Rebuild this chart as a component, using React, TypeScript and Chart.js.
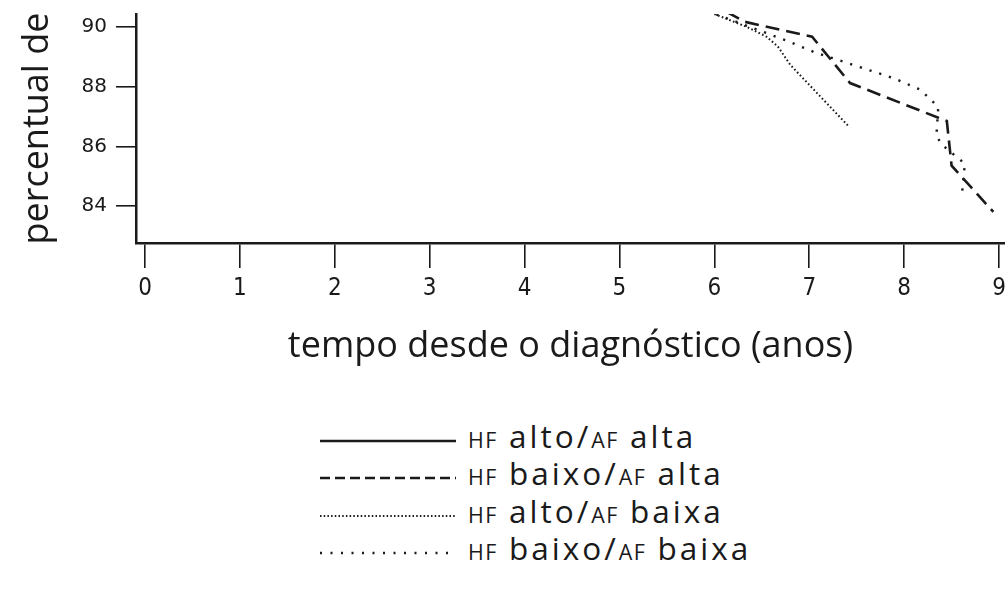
import React, { useEffect, useRef } from "react";
import { Chart, registerables } from "chart.js";

Chart.register(...registerables);

// ---- data ----
const xTickValues = [0, 1, 2, 3, 4, 5, 6, 7, 8, 9];
const yTickValues = [84, 86, 88, 90];

const seriesLabels = [
  "HF alto/AF alta",
  "HF baixo/AF alta",
  "HF alto/AF baixa",
  "HF baixo/AF baixa",
];

// HF alto/AF alta: not visible inside the shown window
const altoAltaX: number[] = [];
const altoAltaY: number[] = [];

const baixoAltaX = [6.13, 6.32, 7.03, 7.43, 8.45, 8.5, 8.94];
const baixoAltaY = [90.5, 90.17, 89.67, 88.12, 86.85, 85.36, 83.81];

const altoBaixaX = [6.0, 6.34, 6.55, 6.67, 6.8, 7.41];
const altoBaixaY = [90.43, 90.0, 89.67, 89.34, 88.73, 86.69];

const baixoBaixaX = [6.02, 6.76, 7.08, 7.27, 7.9, 8.17, 8.36, 8.34, 8.4, 8.64, 8.61];
const baixoBaixaY = [90.42, 89.54, 89.12, 88.93, 88.27, 87.9, 87.32, 86.35, 86.05, 85.42, 84.42];

// ---- styles ----
const INK = "#1a1a1a";
const FONT = "'Open Sans', Lato, sans-serif";

const toPts = (xs: number[], ys: number[]) => xs.map((x, i) => ({ x, y: ys[i] }));

const legendDash = ["", "10 5", "1.5 2.2", "2 8.5"];
const legendWidth = [2.6, 2.6, 2, 2.4];

function SmallCapsLabel({ text }: { text: string }) {
  const parts = text.split(/([A-Z]{2,})/);
  return (
    <span>
      {parts.map((p, i) =>
        /^[A-Z]{2,}$/.test(p) ? (
          <span key={i} style={{ fontSize: "0.68em", letterSpacing: "1.5px" }}>
            {p}
          </span>
        ) : (
          <span key={i}>{p}</span>
        )
      )}
    </span>
  );
}

export default function App() {
  const ref = useRef<HTMLCanvasElement | null>(null);

  useEffect(() => {
    if (!ref.current) return;
    const H = 380;
    const chart = new Chart(ref.current, {
      type: "line",
      data: {
        datasets: [
          {
            label: seriesLabels[0],
            data: toPts(altoAltaX, altoAltaY),
            borderColor: INK,
            borderWidth: 2.6,
            pointRadius: 0,
            fill: false,
          },
          {
            label: seriesLabels[1],
            data: toPts(baixoAltaX, baixoAltaY),
            borderColor: INK,
            borderWidth: 2.6,
            borderDash: [14, 7],
            pointRadius: 0,
            fill: false,
          },
          {
            label: seriesLabels[2],
            data: toPts(altoBaixaX, altoBaixaY),
            borderColor: INK,
            borderWidth: 2,
            borderDash: [1.6, 2.4],
            pointRadius: 0,
            fill: false,
          },
          {
            label: seriesLabels[3],
            data: toPts(baixoBaixaX, baixoBaixaY),
            borderColor: INK,
            borderWidth: 2.4,
            borderDash: [2.2, 8],
            pointRadius: 0,
            fill: false,
          },
        ],
      },
      options: {
        animation: false,
        responsive: false,
        maintainAspectRatio: false,
        layout: { padding: { top: 14, right: 0, left: 0, bottom: 0 } },
        plugins: { legend: { display: false }, tooltip: { enabled: false } },
        elements: { line: { tension: 0 } },
        scales: {
          x: {
            type: "linear",
            min: -0.095,
            max: 9.063,
            afterBuildTicks: (s: any) => {
              s.ticks = xTickValues.map((v) => ({ value: v }));
            },
            afterFit: (s: any) => {
              s.height = H - 243;
              s.paddingLeft = 0;
              s.paddingRight = 0;
            },
            border: { display: true, color: INK, width: 2.5 },
            grid: {
              display: true,
              drawOnChartArea: false,
              drawTicks: true,
              tickLength: 25,
              color: INK,
              lineWidth: 1.6,
            },
            ticks: {
              color: INK,
              padding: 6,
              maxRotation: 0,
              autoSkip: false,
              font: { family: "'DejaVu Sans Condensed', 'DejaVu Sans', sans-serif", size: 24 },
            },
            title: {
              display: true,
              text: "tempo desde o diagnóstico (anos)",
              color: INK,
              font: { family: FONT, size: 36 },
              padding: { top: 0, bottom: 12 },
            },
          },
          y: {
            type: "linear",
            min: 82.77,
            max: 90.43,
            afterBuildTicks: (s: any) => {
              s.ticks = yTickValues.map((v) => ({ value: v }));
            },
            afterFit: (s: any) => {
              s.width = 136;
              s.paddingTop = 0;
              s.paddingBottom = 0;
            },
            border: { display: true, color: INK, width: 2.5 },
            grid: {
              display: true,
              drawOnChartArea: false,
              drawTicks: true,
              tickLength: 20,
              color: INK,
              lineWidth: 1.6,
            },
            ticks: {
              color: INK,
              padding: 9,
              autoSkip: false,
              font: { family: "'DejaVu Sans', sans-serif", size: 20 },
            },
            title: {
              display: true,
              text: "percentual de",
              color: INK,
              font: { family: FONT, size: 36 },
              padding: { top: 16, bottom: 0 },
            },
          },
        },
      },
    });
    return () => chart.destroy();
  }, []);

  return (
    <div
      style={{
        position: "fixed",
        left: 0,
        top: 0,
        width: 1005,
        height: 590,
        background: "#fff",
        overflow: "hidden",
      }}
    >
      <canvas ref={ref} width={1005} height={380} style={{ display: "block" }} />
      <div
        style={{
          position: "absolute",
          left: 320,
          top: 419,
          fontFamily: FONT,
          fontSize: 31.5,
          letterSpacing: "3px",
          color: INK,
        }}
      >
        {seriesLabels.map((lab, i) => (
          <div
            key={lab}
            style={{ display: "flex", alignItems: "center", height: 37.5, whiteSpace: "nowrap" }}
          >
            <svg width={136} height={12} style={{ display: "block", marginTop: 6 }}>
              <line
                x1={0}
                y1={6}
                x2={136}
                y2={6}
                stroke={INK}
                strokeWidth={legendWidth[i]}
                strokeDasharray={legendDash[i] || undefined}
              />
            </svg>
            <div style={{ marginLeft: 12, lineHeight: "38px" }}>
              <SmallCapsLabel text={lab} />
            </div>
          </div>
        ))}
      </div>
    </div>
  );
}
